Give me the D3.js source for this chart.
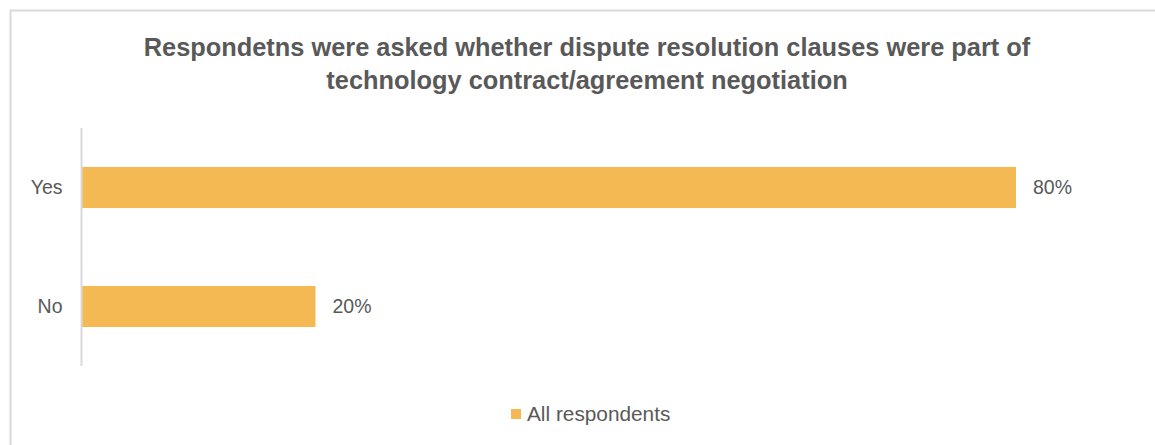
<!DOCTYPE html>
<html>
<head>
<meta charset="utf-8">
<script src="https://cdn.jsdelivr.net/npm/d3@7"></script>
<style>
  html, body { margin: 0; padding: 0; background: #fff; }
  svg { display: block; }
</style>
</head>
<body>
<svg id="chart" width="1155" height="445"></svg>
<script>
// Survey answers and their shares
const categories = ["Yes", "No"];
const shares = [0.8, 0.2];
const seriesName = "All respondents";
const titleLines = [
  "Respondetns were asked whether dispute resolution clauses were part of",
  "technology contract/agreement negotiation"
];

const W = 1155, H = 445;
const textColor = "#595959";
const barColor = "#F4B952";
const font = "'Liberation Sans', Arial, sans-serif";

const svg = d3.select("#chart");

// Chart frame
svg.append("rect")
  .attr("x", 10.5).attr("y", 10.5)
  .attr("width", W + 10).attr("height", H + 10)
  .attr("fill", "#fff")
  .attr("stroke", "#d9d9d9")
  .attr("stroke-width", 2);

// Title, sized so the first line spans the intended width
const title = svg.append("g").selectAll("text")
  .data(titleLines)
  .join("text")
  .attr("x", 587)
  .attr("y", (d, i) => 56 + i * 33)
  .attr("text-anchor", "middle")
  .attr("font-family", font)
  .attr("font-weight", "bold")
  .attr("font-size", 20)
  .attr("fill", textColor)
  .text(d => d);
const firstLen = title.node().getComputedTextLength();
title.attr("font-size", 20 * 887 / firstLen);

// Scales
const x = d3.scaleLinear().domain([0, 0.9]).range([82, 82 + 1167.5 * 0.9]);
const y = d3.scaleBand().domain(categories).range([128, 366])
  .paddingInner(0.655).paddingOuter(0.3275);

// Bars
svg.append("g").selectAll("rect")
  .data(categories)
  .join("rect")
  .attr("x", x(0))
  .attr("y", d => y(d))
  .attr("width", (d, i) => x(shares[i]) - x(0))
  .attr("height", y.bandwidth())
  .attr("fill", barColor);

// Category axis
const yAxis = svg.append("g")
  .attr("transform", `translate(${x(0) - 0.5},0)`)
  .call(d3.axisLeft(y).tickSize(0).tickPadding(19));
yAxis.select(".domain").attr("stroke", "#d9d9d9").attr("stroke-width", 2)
  .attr("d", "M0,128V366");
yAxis.selectAll("text")
  .attr("font-family", font)
  .attr("font-size", 19.5)
  .attr("fill", textColor);

// Value labels
svg.append("g").selectAll("text")
  .data(categories)
  .join("text")
  .attr("x", (d, i) => x(shares[i]) + 17)
  .attr("y", d => y(d) + y.bandwidth() / 2)
  .attr("dy", "0.35em")
  .attr("font-family", font)
  .attr("font-size", 19.5)
  .attr("fill", textColor)
  .text((d, i) => d3.format(".0%")(shares[i]));

// Legend
const legend = svg.append("g").attr("transform", "translate(511,409)");
legend.append("rect").attr("width", 10).attr("height", 10).attr("fill", barColor);
legend.append("text")
  .attr("x", 16).attr("y", 5).attr("dy", "0.35em")
  .attr("font-family", font)
  .attr("font-size", 20.8)
  .attr("fill", textColor)
  .text(seriesName);
</script>
</body>
</html>
